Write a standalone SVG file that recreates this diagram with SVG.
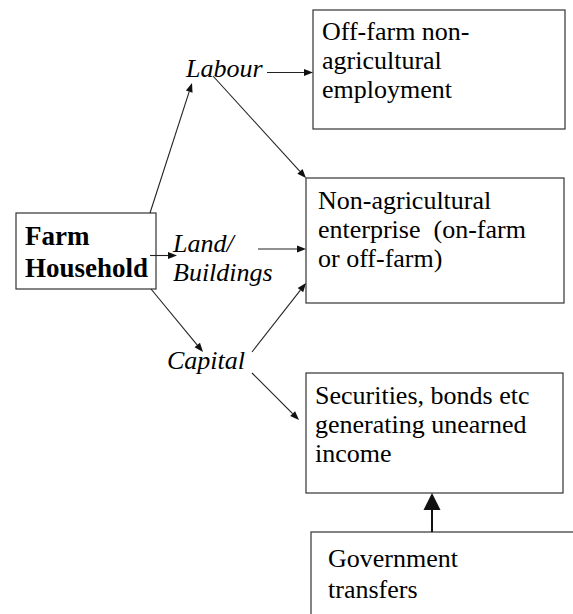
<svg xmlns="http://www.w3.org/2000/svg" width="573" height="614" viewBox="0 0 573 614">
<style>
.i{font-style:italic}
</style>
<rect width="573" height="614" fill="#fff"/>
<g id="farm-household">
<rect x="16" y="213" width="140" height="76" fill="#fff" stroke="#333" stroke-width="1.2"/>
<text font-family="Liberation Serif" font-weight="bold" font-size="27" x="25" y="245">Farm</text>
<text font-family="Liberation Serif" font-weight="bold" font-size="27" x="25" y="277">Household</text>
</g>
<g id="off-farm">
<rect x="313" y="10" width="252" height="119" fill="#fff" stroke="#333" stroke-width="1.2"/>
<text font-family="Liberation Serif" font-size="26" x="322" y="40">Off-farm non-</text>
<text font-family="Liberation Serif" font-size="26" x="322" y="69">agricultural</text>
<text font-family="Liberation Serif" font-size="26" x="322" y="98">employment</text>
</g>
<g id="non-agri">
<rect x="306" y="178" width="258" height="125" fill="#fff" stroke="#333" stroke-width="1.2"/>
<text font-family="Liberation Serif" font-size="26" x="318" y="209">Non-agricultural</text>
<text font-family="Liberation Serif" font-size="26" x="318" y="238">enterprise&#160; (on-farm</text>
<text font-family="Liberation Serif" font-size="26" x="318" y="267">or off-farm)</text>
</g>
<g id="securities">
<rect x="306" y="373" width="257" height="120" fill="#fff" stroke="#333" stroke-width="1.2"/>
<text font-family="Liberation Serif" font-size="26" x="315" y="404">Securities, bonds etc</text>
<text font-family="Liberation Serif" font-size="26" x="315" y="433">generating unearned</text>
<text font-family="Liberation Serif" font-size="26" x="315" y="462">income</text>
</g>
<g id="government">
<rect x="311" y="532" width="270" height="100" fill="#fff" stroke="#333" stroke-width="1.2"/>
<text font-family="Liberation Serif" font-size="26" x="328" y="567">Government</text>
<text font-family="Liberation Serif" font-size="26" x="328" y="598">transfers</text>
</g>
<g id="labour"><text class="i" font-family="Liberation Serif" font-size="26" x="186" y="77">Labour</text></g>
<g id="land"><text class="i" font-family="Liberation Serif" font-size="26" x="173" y="252">Land/</text><text class="i" font-family="Liberation Serif" font-size="26" x="173" y="281">Buildings</text></g>
<g id="capital"><text class="i" font-family="Liberation Serif" font-size="26" x="167" y="369">Capital</text></g>
<g id="connectors" stroke="#222" stroke-width="1.1" fill="none">
<line x1="150" y1="213" x2="189.2" y2="91.6"/>
<line x1="267" y1="72.5" x2="304" y2="72.5"/>
<line x1="213" y1="76" x2="299.9" y2="171.4"/>
<line x1="150" y1="255.5" x2="168" y2="255.5"/>
<line x1="258" y1="249" x2="297" y2="249"/>
<line x1="151" y1="289" x2="197.3" y2="345.1"/>
<line x1="252" y1="352" x2="300.4" y2="290.1"/>
<line x1="252" y1="373" x2="292.6" y2="413.6"/>
<line x1="432" y1="532" x2="432" y2="508" stroke="#111" stroke-width="2"/>
<g fill="#111" stroke="none">
<path d="M192,83 L192.56,92.65 L185.9,90.49 z"/>
<path d="M313,72.5 L304,69 L304,76 z"/>
<path d="M306,178 L297.34,173.71 L302.52,168.99 z"/>
<path d="M177,255.5 L168,252 L168,259 z"/>
<path d="M306,249 L297,245.5 L297,252.5 z"/>
<path d="M203,352 L194.57,347.29 L199.97,342.83 z"/>
<path d="M306,283 L303.21,292.25 L297.69,287.93 z"/>
<path d="M299,420 L290.17,416.11 L295.11,411.17 z"/>
<path d="M432,493 L423.5,510 L440.5,510 z"/>
</g>
</g>
</svg>
